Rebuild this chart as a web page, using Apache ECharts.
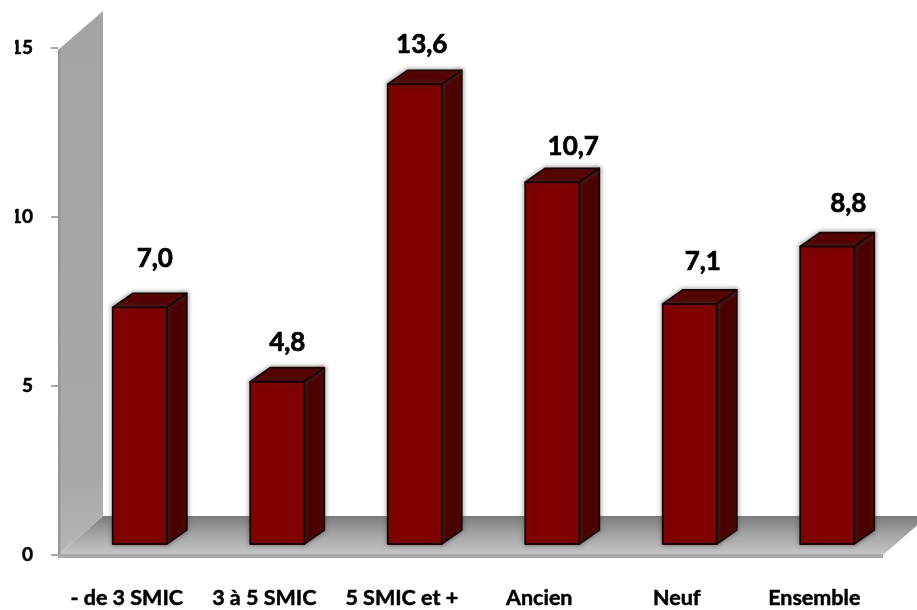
<!DOCTYPE html>
<html>
<head>
<meta charset="utf-8">
<style>html,body{margin:0;padding:0;background:#fff}#chart{width:917px;height:610px}</style>
<script src="https://cdn.jsdelivr.net/npm/echarts@6/dist/echarts.min.js"></script>
</head>
<body>
<div id="chart"></div>
<script>
// Tick labels and readings of the column chart
var categories = ['- de 3 SMIC', '3 à 5 SMIC', '5 SMIC et +', 'Ancien', 'Neuf', 'Ensemble'];
var values = [7.0, 4.8, 13.6, 10.7, 7.1, 8.8];
var valueTicks = [0, 5, 10, 15];

// Oblique projection: how far the floor and wall recede, and where a column sits in that depth
var DEPTH = { dx: 45, dy: -39 };
var COLUMN = { width: 54, frontDx: 13, frontDy: -11, sideDx: 20, sideDy: -14 };
// Hand placement of each value label relative to its column top
var labelShift = [
  [15, -49], [10, -39], [7, -40], [21, -36], [13, -42], [21, -43]
];

var FONT = 'Lato, Carlito, "Open Sans", sans-serif';
var chart = echarts.init(document.getElementById('chart'), null, { renderer: 'canvas' });

function poly(points, fill, extra) {
  return { type: 'polygon', shape: { points: points }, style: Object.assign({ fill: fill }, extra || {}) };
}

// Left wall and floor, projected from the grid rectangle
function renderRoom(params) {
  var g = params.coordSys;
  var x0 = g.x, x1 = g.x + g.width, top = g.y, base = g.y + g.height;
  var dx = DEPTH.dx, dy = DEPTH.dy;
  return {
    type: 'group',
    children: [
      poly([[x0 + dx, base + dy], [x1 + dx, base + dy], [x1, base], [x0, base]], {
        type: 'linear', x: 0, y: 0, x2: 0, y2: 1,
        colorStops: [
          { offset: 0, color: '#7c7c7c' },
          { offset: 0.45, color: '#a2a2a2' },
          { offset: 1, color: '#c6c6c6' }
        ]
      }),
      { type: 'rect', shape: { x: x0, y: base - 1, width: g.width, height: 4 }, style: { fill: '#a9a9a9' } },
      poly([[x0, top + 2], [x0 + dx, top - 37], [x0 + dx, base + dy], [x0, base]], {
        type: 'linear', x: 0, y: 0, x2: 0, y2: 1,
        colorStops: [
          { offset: 0, color: '#a4a4a4' },
          { offset: 0.85, color: '#a8a8a8' },
          { offset: 1, color: '#b6b6b6' }
        ]
      }),
      { type: 'rect', shape: { x: x0, y: top + 2, width: 2.5, height: g.height - 2 }, style: { fill: '#979797' } }
    ]
  };
}

// One three-sided column with its value label
function renderColumn(params, api) {
  var i = api.value(0), v = api.value(1);
  var foot = api.coord([i, 0]);
  var head = api.coord([i, v]);
  var left = foot[0] - COLUMN.width / 2 + COLUMN.frontDx;
  var right = left + COLUMN.width;
  var bottom = foot[1] + COLUMN.frontDy;
  var topY = head[1] + COLUMN.frontDy;
  var sx = COLUMN.sideDx, sy = COLUMN.sideDy;
  var edge = { stroke: '#1c0000', lineWidth: 1.8, lineJoin: 'round' };
  var shadow = { shadowBlur: 5, shadowColor: 'rgba(60,60,60,0.55)' };
  return {
    type: 'group',
    children: [
      poly([[right, topY], [right + sx, topY + sy], [right + sx, bottom + sy], [right, bottom]], '#4d0000',
        Object.assign({}, edge, shadow)),
      poly([[left, topY], [left + sx, topY + sy], [right + sx, topY + sy], [right, topY]], '#560000',
        Object.assign({}, edge, shadow)),
      poly([[left, topY], [right, topY], [right, bottom], [left, bottom]], '#800000',
        Object.assign({}, edge, shadow)),
      {
        type: 'text',
        style: {
          x: (left + right) / 2 + labelShift[i][0],
          y: topY + labelShift[i][1],
          text: v.toFixed(1).replace('.', ','),
          fill: '#000',
          stroke: '#000',
          lineWidth: 0.7,
          font: 'bold 26px ' + FONT,
          align: 'center',
          verticalAlign: 'middle'
        }
      }
    ]
  };
}

chart.setOption({
  animation: false,
  backgroundColor: '#fff',
  grid: { left: 58, top: 48, width: 825, height: 507 },
  xAxis: {
    type: 'category',
    data: categories,
    axisLine: { show: false },
    axisTick: { show: false },
    axisLabel: {
      color: '#000', fontFamily: FONT, fontWeight: 'bold', fontSize: 21.5, margin: 32, interval: 0,
      textBorderColor: '#000', textBorderWidth: 0.5
    }
  },
  yAxis: {
    type: 'value',
    min: valueTicks[0],
    max: valueTicks[valueTicks.length - 1],
    interval: valueTicks[1] - valueTicks[0],
    splitLine: { show: false },
    axisLine: { show: false },
    axisTick: { show: true, length: 7, lineStyle: { color: '#8a8a8a', width: 1.5 } },
    axisLabel: {
      color: '#000', fontFamily: FONT, fontWeight: 'bold', fontSize: 19, margin: 25,
      padding: [3, 0, 0, 0],
      textBorderColor: '#000', textBorderWidth: 0.5
    }
  },
  series: [
    { type: 'custom', coordinateSystem: 'cartesian2d', renderItem: renderRoom, data: [[0, 0]], silent: true, clip: false, z: 1 },
    {
      type: 'custom',
      coordinateSystem: 'cartesian2d',
      renderItem: renderColumn,
      data: values.map(function (v, i) { return [i, v]; }),
      encode: { x: 0, y: 1 },
      clip: false,
      z: 2
    }
  ],
  // The page edge trims the first digit of the upper tick labels
  graphic: [
    { type: 'rect', left: 0, top: 30, shape: { width: 15, height: 200 }, style: { fill: '#fff' }, z: 100 }
  ]
});
</script>
</body>
</html>
